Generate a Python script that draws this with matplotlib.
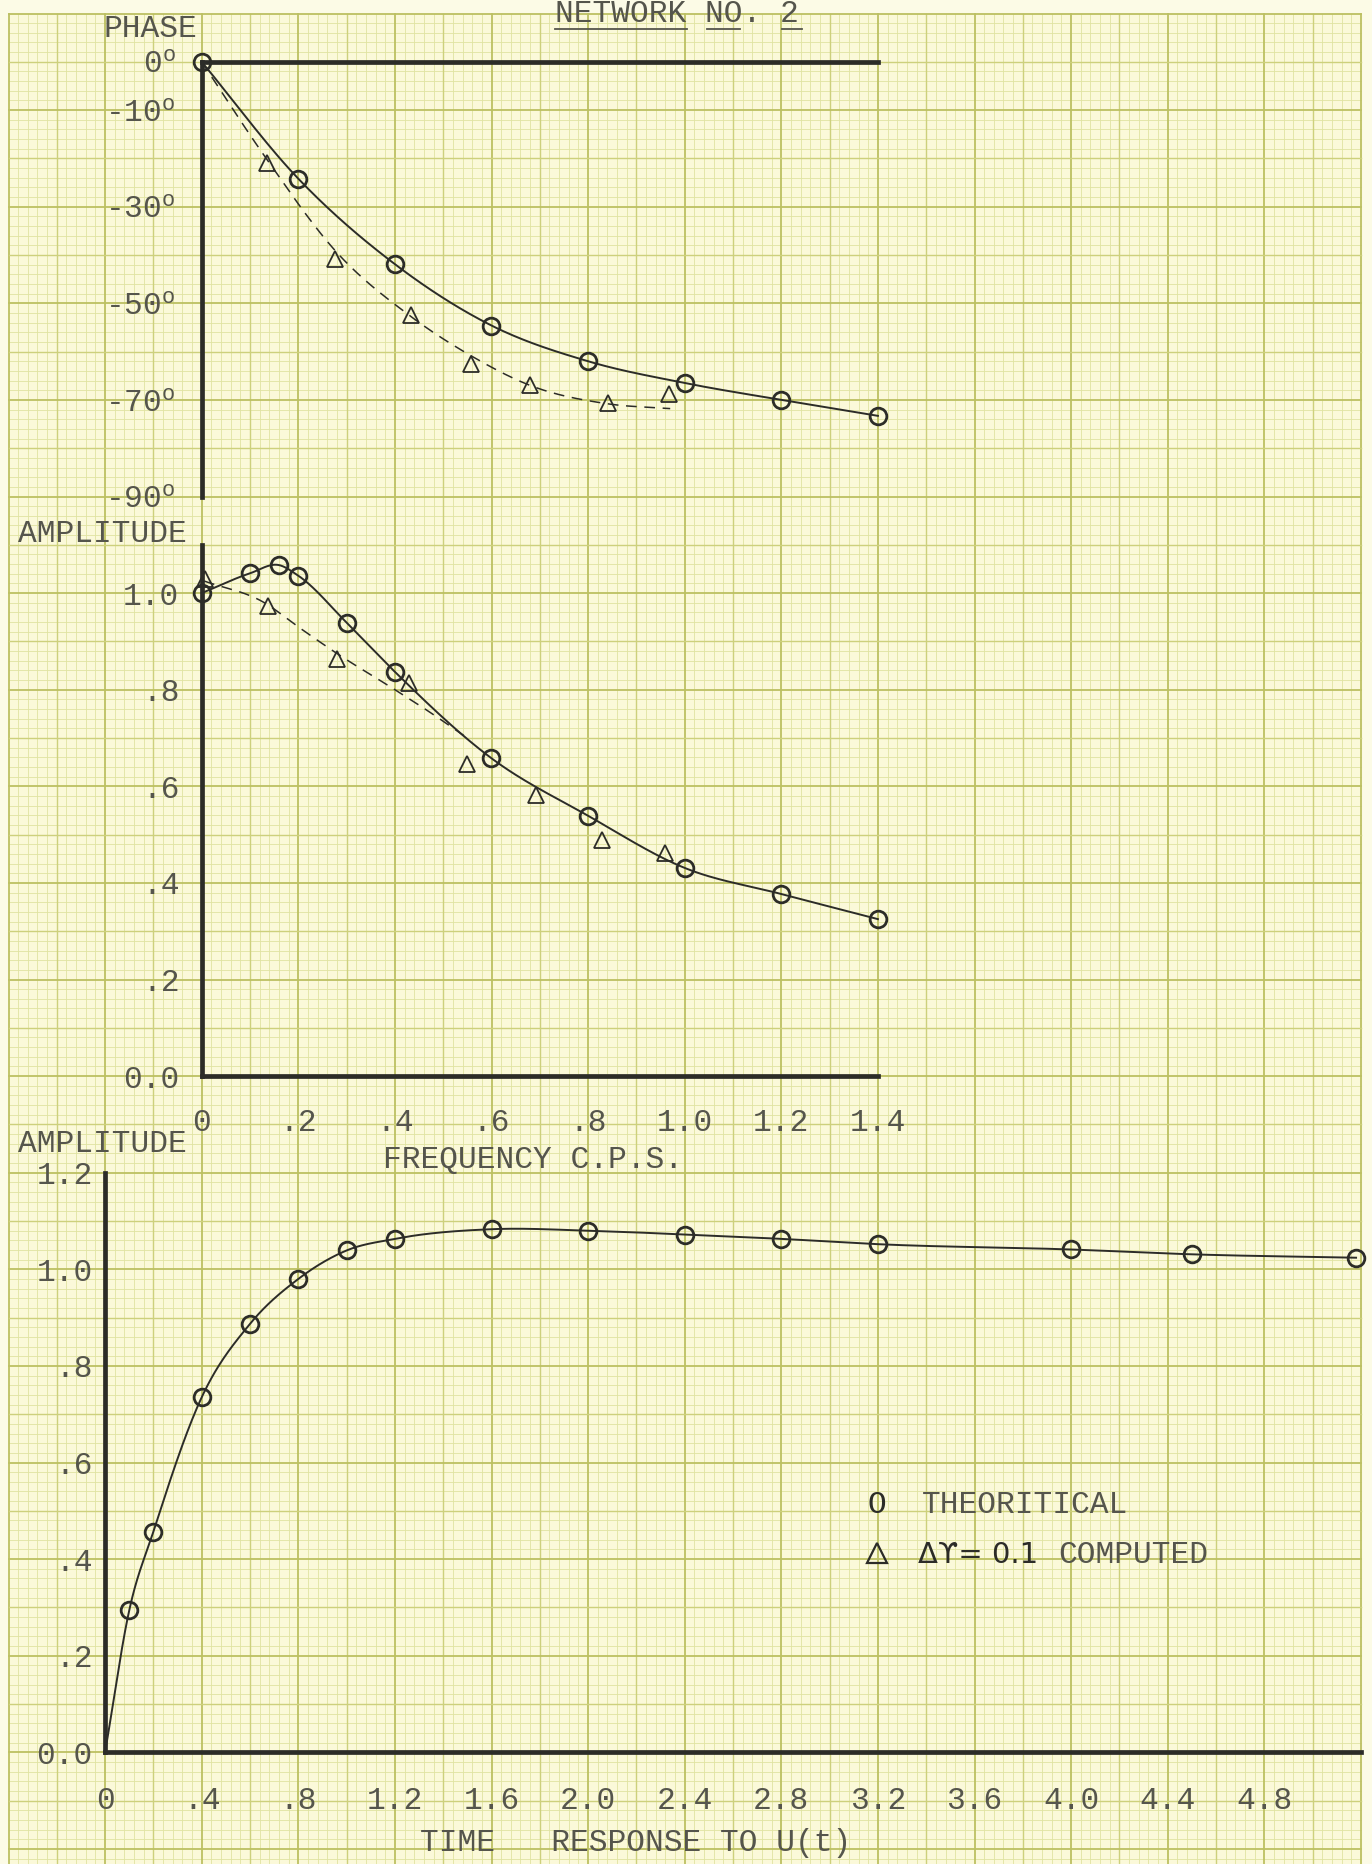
import matplotlib
matplotlib.use("Agg")
import matplotlib.pyplot as plt
import numpy as np

W, H = 1372, 1864

# ---- data ----
PHASE_FREQ = [0.0, 0.2, 0.4, 0.6, 0.8, 1.0, 1.2, 1.4]
PHASE_THEORY = [0.0, -24.2, -41.9, -54.6, -62.0, -66.5, -70.0, -73.3]
PHASE_COMP_FREQ = [0.135, 0.277, 0.434, 0.557, 0.679, 0.842, 0.967]
PHASE_COMP = [-20.9, -40.9, -52.5, -62.5, -67.0, -70.6, -68.7]
PHASE_DASH_FREQ = [0.0, 0.13, 0.28, 0.43, 0.56, 0.68, 0.84, 0.97]
PHASE_DASH = [0.0, -19.5, -39.5, -52.5, -61.0, -67.0, -70.8, -71.8]
PHASE_TICKS = [0, -10, -30, -50, -70, -90]

AMP_FREQ = [0.0, 0.1, 0.16, 0.2, 0.3, 0.4, 0.6, 0.8, 1.0, 1.2, 1.4]
AMP_THEORY = [1.0, 1.041, 1.058, 1.036, 0.939, 0.837, 0.658, 0.539, 0.431, 0.377, 0.325]
AMP_COMP_FREQ = [0.006, 0.138, 0.28, 0.429, 0.55, 0.693, 0.829, 0.96]
AMP_COMP = [1.03, 0.973, 0.864, 0.813, 0.647, 0.583, 0.489, 0.462]
AMP_DASH_FREQ = [0.005, 0.13, 0.2, 0.28, 0.4, 0.47, 0.55]
AMP_DASH = [1.025, 0.98, 0.93, 0.875, 0.80, 0.755, 0.70]
AMP_TICKS = [0.0, 0.2, 0.4, 0.6, 0.8, 1.0]
AMP_TICK_LABELS = ["0.0", ".2", ".4", ".6", ".8", "1.0"]
FREQ_TICKS = [0.0, 0.2, 0.4, 0.6, 0.8, 1.0, 1.2, 1.4]
FREQ_TICK_LABELS = ["0", ".2", ".4", ".6", ".8", "1.0", "1.2", "1.4"]

TIME_T = [0.0, 0.1, 0.2, 0.4, 0.6, 0.8, 1.0, 1.2, 1.6, 2.0, 2.4, 2.8, 3.2, 4.0, 4.5, 5.18]
TIME_AMP = [0.0, 0.294, 0.457, 0.735, 0.887, 0.980, 1.039, 1.063, 1.083, 1.080,
            1.072, 1.063, 1.052, 1.041, 1.031, 1.024]
TIME_Y_TICKS = [0.0, 0.2, 0.4, 0.6, 0.8, 1.0, 1.2]
TIME_Y_LABELS = ["0.0", ".2", ".4", ".6", ".8", "1.0", "1.2"]
TIME_X_TICKS = [0.0, 0.4, 0.8, 1.2, 1.6, 2.0, 2.4, 2.8, 3.2, 3.6, 4.0, 4.4, 4.8]
TIME_X_LABELS = ["0", ".4", ".8", "1.2", "1.6", "2.0", "2.4", "2.8", "3.2",
                 "3.6", "4.0", "4.4", "4.8"]

# ---- look ----
PAPER = "#fbf9d9"
MARGIN = "#fcfbe6"
MINOR = "#e0e3a2"
MAJOR = "#cdd07c"
HEAVY = "#bcc062"
INK = "#2c2c28"
TYPE = "#55554c"
MONO = ["Liberation Mono", "DejaVu Sans"]
FS = 22.5

# graph paper geometry (pixels)
GX, GY, P = 8.5, 13.5, 48.3
NX = 28

plt.rcParams["font.family"] = MONO
plt.rcParams["mathtext.fontset"] = "custom"
plt.rcParams["mathtext.rm"] = "Liberation Mono"
plt.rcParams["mathtext.it"] = "Liberation Mono"


def smooth(x, y, n=40):
    x = np.asarray(x, float)
    y = np.asarray(y, float)
    m = np.gradient(y, x)
    xs, ys = [], []
    for i in range(len(x) - 1):
        h = x[i + 1] - x[i]
        t = np.linspace(0, 1, n, endpoint=False)
        h00 = 2 * t**3 - 3 * t**2 + 1
        h10 = t**3 - 2 * t**2 + t
        h01 = -2 * t**3 + 3 * t**2
        h11 = t**3 - t**2
        xs.append(x[i] + t * h)
        ys.append(h00 * y[i] + h10 * h * m[i] + h01 * y[i + 1] + h11 * h * m[i + 1])
    xs.append([x[-1]])
    ys.append([y[-1]])
    return np.concatenate(xs), np.concatenate(ys)


def place_axes(fig, x0, y0, sx, sy, xlim, ylim):
    left = x0 + xlim[0] * sx
    right = x0 + xlim[1] * sx
    top = y0 - ylim[1] * sy
    bottom = y0 - ylim[0] * sy
    ax = fig.add_axes([left / W, 1 - bottom / H, (right - left) / W, (bottom - top) / H])
    ax.set_xlim(xlim)
    ax.set_ylim(ylim)
    ax.patch.set_alpha(0)
    for side in ax.spines.values():
        side.set_visible(False)
        side.set_linewidth(3.4)
        side.set_color(INK)
    ax.tick_params(length=0, labelsize=FS, labelcolor=TYPE)
    return ax


def theory(ax, x, y, markers_from=0):
    sx, sy = smooth(x, y)
    ax.plot(sx, sy, color=INK, lw=1.4, clip_on=False, zorder=3)
    ax.plot(x[markers_from:], y[markers_from:], "o", ms=12, mfc="none", mec=INK,
            mew=2.0, clip_on=False, zorder=4)


def computed(ax, xd, yd, xm, ym):
    sx, sy = smooth(xd, yd)
    ax.plot(sx, sy, color=INK, lw=1.1, dashes=(7, 5), clip_on=False, zorder=3)
    ax.plot(xm, ym, "^", ms=12, mfc="none", mec=INK, mew=1.3, clip_on=False, zorder=4)


fig = plt.figure(figsize=(W / 100, H / 100), dpi=100, facecolor=MARGIN)

# ---- graph paper ----
bg = fig.add_axes([0, 0, 1, 1])
bg.set_xlim(0, W)
bg.set_ylim(H, 0)
bg.axis("off")
right_edge = GX + NX * P
bg.add_patch(plt.Rectangle((GX, GY), right_edge - GX, H, color=PAPER, zorder=0))
nrows = int((H - GY) / (P / 5)) + 1


def paper_style(k):
    if k % 10 == 0:
        return HEAVY, 1.3, 2
    if k % 5 == 0:
        return MAJOR, 1.0, 2
    return MINOR, 0.6, 1


for i in range(NX * 5 + 1):
    x = GX + i * P / 5
    c, lw, z = paper_style(i)
    bg.plot([x, x], [GY, H], color=c, lw=lw, zorder=z)
for j in range(nrows):
    y = GY + j * P / 5
    c, lw, z = paper_style(j)
    bg.plot([GX, right_edge], [y, y], color=c, lw=lw, zorder=z)

# ---- typed captions ----
bg.text(555, 22, "NETWORK NO. 2", fontsize=FS, color=TYPE, va="baseline", ha="left")
for xa, xb in [(555, 687), (707, 740), (782, 802)]:
    bg.plot([xa, xb], [29, 29], color=TYPE, lw=1.3)
bg.text(103, 37, "PHASE", fontsize=FS, color=TYPE, va="baseline")
bg.text(18, 542, "AMPLITUDE", fontsize=FS, color=TYPE, va="baseline")
bg.text(18, 1152, "AMPLITUDE", fontsize=FS, color=TYPE, va="baseline")
bg.text(383, 1168, "FREQUENCY C.P.S.", fontsize=FS, color=TYPE, va="baseline")
bg.text(420, 1851, "TIME   RESPONSE TO U(t)", fontsize=FS, color=TYPE, va="baseline")

# legend
bg.text(877, 1513, "O", fontsize=FS, color=INK, va="baseline", ha="center")
bg.text(922, 1513, "THEORITICAL", fontsize=FS, color=TYPE, va="baseline")
bg.plot([877], [1553], "^", ms=14, mfc="none", mec=INK, mew=1.6)
bg.text(918, 1563, "\u0394\u03d2= 0.1", fontsize=21, color=INK, va="baseline",
        family=["DejaVu Sans"])
bg.text(1058, 1563, "COMPUTED", fontsize=FS, color=TYPE, va="baseline")

# ---- phase ----
ax_p = place_axes(fig, GX + 4 * P, GY + P, P / 0.1, P / 10, (0, 1.4), (-90, 0))
ax_p.spines["left"].set_visible(True)
ax_p.spines["top"].set_visible(True)
ax_p.set_xticks([])
ax_p.set_yticks(PHASE_TICKS, [f"{v}$^{{\\mathrm{{o}}}}$" for v in PHASE_TICKS])
ax_p.tick_params(axis="y", pad=19)
theory(ax_p, PHASE_FREQ, PHASE_THEORY)
computed(ax_p, PHASE_DASH_FREQ, PHASE_DASH, PHASE_COMP_FREQ, PHASE_COMP)

# ---- amplitude vs frequency ----
ax_a = place_axes(fig, GX + 4 * P, GY + 22 * P, P / 0.1, P / 0.1, (0, 1.4), (0, 1.1))
ax_a.spines["left"].set_visible(True)
ax_a.spines["bottom"].set_visible(True)
ax_a.set_yticks(AMP_TICKS, AMP_TICK_LABELS)
ax_a.set_xticks(FREQ_TICKS, FREQ_TICK_LABELS)
ax_a.tick_params(axis="y", pad=16)
ax_a.tick_params(axis="x", pad=23)
theory(ax_a, AMP_FREQ, AMP_THEORY)
computed(ax_a, AMP_DASH_FREQ, AMP_DASH, AMP_COMP_FREQ, AMP_COMP)

# ---- step response ----
ax_t = place_axes(fig, GX + 2 * P, GY + 36 * P, P / 0.2, P / 0.1, (0, 5.2), (0, 1.2))
ax_t.spines["left"].set_visible(True)
ax_t.spines["bottom"].set_visible(True)
ax_t.set_yticks(TIME_Y_TICKS, TIME_Y_LABELS)
ax_t.set_xticks(TIME_X_TICKS, TIME_X_LABELS)
ax_t.tick_params(axis="y", pad=9)
ax_t.tick_params(axis="x", pad=24)
theory(ax_t, TIME_T, TIME_AMP, markers_from=1)

fig.savefig("out.png", dpi=100, facecolor=MARGIN)
